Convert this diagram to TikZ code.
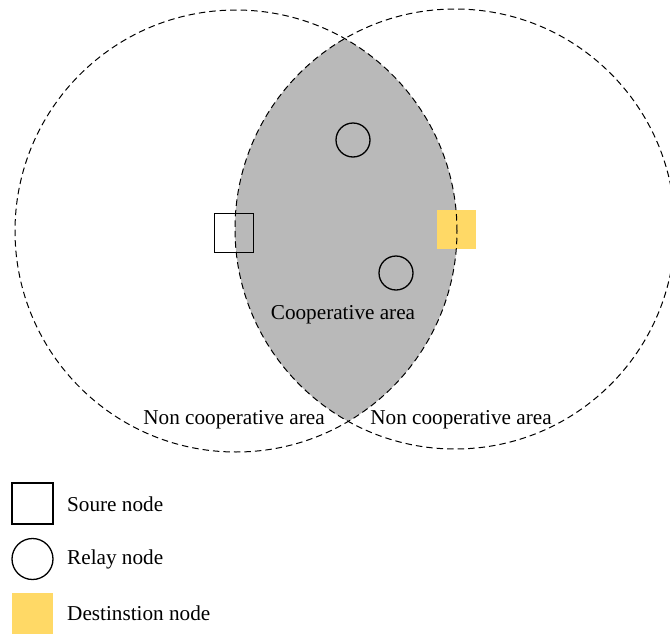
\documentclass[tikz,border=0pt]{standalone}
\usepackage{fontspec}
\setmainfont{Liberation Serif}
\begin{document}
\begin{tikzpicture}[x=1pt,y=-1pt,
  lbl/.style={inner sep=0pt,font=\fontsize{21.2}{25}\selectfont},
  rangecircle/.style={draw=black,line width=1pt,dash pattern=on 6.5pt off 4pt},
  srcbox/.style={draw=black,line width=1.3pt,rectangle,minimum size=#1,inner sep=0pt},
  relaybox/.style={draw=black,line width=1.3pt,circle,minimum size=#1,inner sep=0pt},
  dstbox/.style={fill=destyellow,rectangle,minimum size=#1,inner sep=0pt}]
\definecolor{lensgray}{RGB}{185,185,185}
\definecolor{destyellow}{RGB}{255,217,102}
\useasboundingbox (0,0) rectangle (670,635);
% cooperative lens
\begin{scope}
  \clip (236,231) circle (221pt);
  \fill[lensgray] (455,229) circle (220pt);
\end{scope}
% nodes in the field
\node[srcbox=39pt] (src) at (234,233) {};
\node[relaybox=34pt] (relay1) at (353,140) {};
\node[relaybox=34pt] (relay2) at (396,273) {};
\node[dstbox=39pt] (dst) at (456.5,229.5) {};
% range circles
\draw[rangecircle] (236,231) circle (221pt);
\draw[rangecircle] (455,229) circle (220pt);
% labels
\node[lbl] (coop) at (343,315) {Cooperative area};
\node[lbl] (ncl) at (234,420) {Non cooperative area};
\node[lbl] (ncr) at (461,420) {Non cooperative area};
% legend
\node[srcbox=41pt] (lsrc) at (32.5,503.5) {};
\node[relaybox=41pt] (lrelay) at (32.5,559) {};
\node[dstbox=41pt] (ldst) at (32.5,613.5) {};
\node[lbl,anchor=west] (tsrc) at (67,504) {Soure node};
\node[lbl,anchor=west] (trelay) at (67,559) {Relay node};
\node[lbl,anchor=west] (tdst) at (67,613) {Destinstion node};
\end{tikzpicture}
\end{document}
